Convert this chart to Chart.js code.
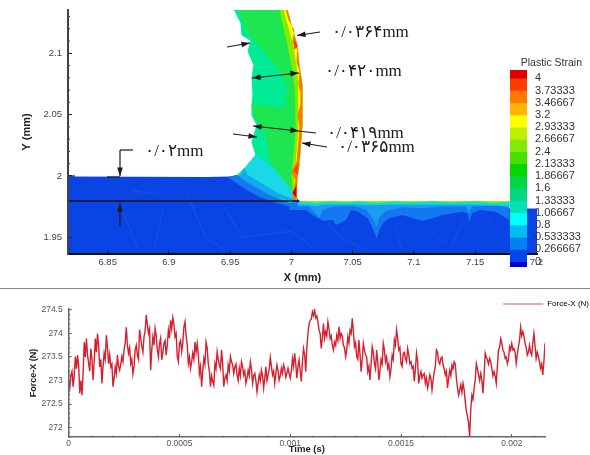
<!DOCTYPE html>
<html>
<head>
<meta charset="utf-8">
<script src="https://cdn.jsdelivr.net/npm/chart.js@4"></script>
<style>
    html, body { margin: 0; padding: 0; background: #fff; }
    canvas { position: absolute; filter: blur(0.45px); }
    #strainChart { left: 0; top: 0; }
    #colorbar { left: 500px; top: 52px; }
    #forceChart { left: 0; top: 290px; }
    #separator { position: absolute; left: 0; top: 288px; width: 590px; height: 1px; background: #8a8a8a; }
</style>
</head>
<body>
<canvas id="strainChart" width="590" height="285"></canvas>
<canvas id="colorbar" width="90" height="220"></canvas>
<div id="separator"></div>
<canvas id="forceChart" width="590" height="165"></canvas>
<script>
// --- 1. DATA ---
const strainXTicks = [6.85, 6.9, 6.95, 7, 7.05, 7.1, 7.15, 7.2];
const strainYTicks = [1.95, 2, 2.05, 2.1];
const forceXTicks = [0, 0.0005, 0.001, 0.0015, 0.002];
const forceYTicks = [272, 272.5, 273, 273.5, 274, 274.5];

const levelValues = [4, 3.73333, 3.46667, 3.2, 2.93333, 2.66667, 2.4, 2.13333, 1.86667, 1.6, 1.33333, 1.06667, 0.8, 0.533333, 0.266667, 0];
const levelLabels = ['4', '3.73333', '3.46667', '3.2', '2.93333', '2.66667', '2.4', '2.13333', '1.86667', '1.6', '1.33333', '1.06667', '0.8', '0.533333', '0.266667', '0'];
const levelColors = ['#dc0000', '#ff3c00', '#ff7800', '#ffb400', '#ffff00', '#bef000', '#82eb00', '#46e100', '#00d700', '#00d746', '#00d782', '#00e1b4', '#00ffff', '#00bef0', '#0082f0', '#0046eb', '#0000e6'];

// workpiece body, x/y in mm
const baseBlue = [[6.8, 1.93], [6.8, 1.9996], [6.93, 1.9992], [6.95, 1.9996], [6.956, 2.0008], [6.9617, 2.0065], [7, 1.9796], [7.1778, 1.9796], [7.1778, 1.9735], [7.21, 1.9735], [7.21, 1.93]];
const meshLines = [[6.862, 1.972], [6.875, 1.94], [NaN, NaN], [6.87, 1.988], [6.89, 1.985], [NaN, NaN], [6.895, 1.972], [6.888, 1.94], [NaN, NaN], [6.915, 1.985], [6.93, 1.95], [6.945, 1.94], [NaN, NaN], [6.945, 1.975], [6.96, 1.95], [7, 1.955], [7.02, 1.94], [NaN, NaN], [7.03, 1.962], [7.04, 1.95], [7.06, 1.94], [NaN, NaN], [7.085, 1.96], [7.09, 1.94], [NaN, NaN], [7.11, 1.96], [7.125, 1.945], [NaN, NaN], [7.14, 1.965], [7.13, 1.94], [NaN, NaN], [7.16, 1.965], [7.175, 1.95]];

// lower edges of the layers under the cut surface
const surfaceTop = [[7.1778, 1.9796], [6.9984, 1.9796]];
const surfaceMedium = [[6.9984, 1.9723], [7.012, 1.9723], [7.0174, 1.9682], [7.0256, 1.9636], [7.0337, 1.9641], [7.0364, 1.9601], [7.0446, 1.9641], [7.0487, 1.9723], [7.0541, 1.9709], [7.0623, 1.9655], [7.0663, 1.9573], [7.0696, 1.9492], [7.0723, 1.9573], [7.0759, 1.9628], [7.0799, 1.9655], [7.0908, 1.9682], [7.099, 1.9655], [7.1071, 1.9636], [7.1153, 1.9655], [7.1234, 1.9682], [7.1397, 1.9709], [7.1438, 1.9696], [7.1452, 1.9628], [7.1474, 1.9696], [7.1533, 1.9723], [7.1669, 1.9709], [7.1778, 1.9641]];
const surfaceSky = [[6.9984, 1.9756], [7.0147, 1.975], [7.0196, 1.9696], [7.0228, 1.9655], [7.0256, 1.9723], [7.0337, 1.975], [7.05, 1.9756], [7.0609, 1.9728], [7.0663, 1.9655], [7.0696, 1.9587], [7.0723, 1.9669], [7.0772, 1.9717], [7.0908, 1.9745], [7.1071, 1.9736], [7.1234, 1.975], [7.1425, 1.975], [7.1452, 1.9696], [7.1474, 1.975], [7.1669, 1.9761], [7.1778, 1.9736]];
const surfaceCyan = [[6.9984, 1.9767], [7.012, 1.9764], [7.02, 1.9755], [7.027, 1.9767], [7.05, 1.9767], [7.065, 1.9761], [7.08, 1.9765], [7.11, 1.9765], [7.145, 1.9765], [7.1778, 1.9755]];
const surfaceGreen = [[6.9984, 1.978], [7.02, 1.9775], [7.05, 1.9779], [7.08, 1.9776], [7.11, 1.9779], [7.15, 1.9775], [7.1778, 1.9773]];
const surfaceLime = [[7.003, 1.9785], [7.01, 1.9795], [7.02, 1.9782], [7.03, 1.9795], [7.045, 1.9785], [7.055, 1.9795], [7.07, 1.9782], [7.085, 1.9795], [7.1, 1.9785], [7.115, 1.9795], [7.13, 1.9785], [7.15, 1.9795], [7.165, 1.9782], [7.1778, 1.979]];

// wedge at the chip root
const wedgeMedium = [[6.9478, 1.9992], [6.9633, 1.9886], [6.9739, 1.9829], [6.9878, 1.978], [7.0041, 1.9739], [7.0065, 1.9796], [7, 1.9886], [6.9617, 2.0065], [6.9559, 2.0008]];
const wedgeSky = [[6.9576, 1.9992], [6.9674, 1.9927], [6.978, 1.987], [6.9902, 1.9821], [7.0033, 1.978], [7.0041, 1.9845], [6.9617, 2.0065]];
const wedgeCyan = [[6.9617, 2.0065], [6.9641, 2.0008], [6.9755, 1.9943], [6.9902, 1.9853], [7.0033, 1.9804], [7.0024, 1.9927], [6.982, 2.009], [6.9723, 2.0171], [6.9706, 2.0171]];

// chip outline and its inner bands
const chipOutline = [[6.956, 2.0008], [6.9617, 2.0065], [6.9706, 2.0171], [6.9674, 2.0277], [6.9715, 2.0416], [6.9674, 2.0497], [6.9674, 2.0579], [6.9682, 2.066], [6.9674, 2.0799], [6.969, 2.0905], [6.9641, 2.1019], [6.9666, 2.11], [6.9592, 2.1149], [6.9584, 2.1247], [6.9535, 2.1345], [6.9527, 2.1361], [6.9967, 2.1361], [7.0008, 2.1206], [7.0049, 2.1068], [7.0065, 2.0905], [7.009, 2.0742], [7.009, 2.0554], [7.009, 2.0416], [7.0082, 2.031], [7.0065, 2.009], [7.0049, 1.9984], [7.0041, 1.9796], [6.9984, 1.978], [6.9886, 1.9821], [6.978, 1.987], [6.9657, 1.9951]];
const chipRightEdge = [[7.0041, 1.9796], [7.0049, 1.9984], [7.0065, 2.009], [7.0082, 2.031], [7.009, 2.0416], [7.009, 2.0554], [7.009, 2.0742], [7.0065, 2.0905], [7.0049, 2.1068], [7.0008, 2.1206], [6.9967, 2.1361]];
const chipCoreEdge = [[6.9576, 2.1361], [6.9625, 2.119], [6.9723, 2.1068], [6.9837, 2.0945], [6.9918, 2.0823], [6.9967, 2.0717], [6.9943, 2.0554], [6.9674, 2.0587], [6.969, 2.0473], [6.9755, 2.0416], [6.9804, 2.0293], [6.982, 2.013], [6.9902, 2.0008], [7, 1.9886]];
const chipLimeEdge = [[6.9902, 2.1361], [6.9935, 2.1206], [6.9967, 2.1068], [7, 2.0905], [7.0024, 2.0742], [7.0033, 2.0554], [7.0033, 2.0416], [7.0024, 2.0253], [7.0008, 2.009], [7, 1.9967], [7.0016, 1.9821]];
const chipYellowEdge = [[6.9935, 2.1361], [6.9976, 2.1206], [7.0016, 2.1068], [7.0041, 2.0905], [7.0057, 2.0742], [7.0057, 2.0554], [7.0057, 2.0416], [7.0049, 2.0293], [7.0033, 2.009], [7.0024, 1.9927], [7.0033, 1.9804]];
const chipOrangeEdge = [[6.9951, 2.1361], [6.9976, 2.1271], [7.0024, 2.119], [7.0008, 2.1092], [7.0049, 2.1027], [7.0041, 2.0929], [7.0065, 2.0864], [7.0057, 2.0742], [7.0073, 2.0685], [7.0073, 2.0579], [7.0049, 2.0497], [7.0065, 2.0416], [7.0057, 2.0293], [7.0041, 2.0114], [7, 2.0033], [7.0033, 1.9967], [7.0008, 1.9821]];
const redPatchLow = [[7.0041, 1.9927], [7.0041, 1.9821], [7.0008, 1.9861]];
const redPatchMid = [[7.0057, 2.0106], [7.0049, 2.0008], [7.0016, 2.0049]];
const redPatchTop = [[7.0016, 2.1125], [7.0049, 2.1059], [7.0024, 2.1027]];
const cutLine = [[6.8176, 1.9796], [7.0065, 1.9796]];

// Force-X trace, read at two interleaved sets of instants
const forceTimes = [
    0, 0.00001, 0.00002, 0.00003, 0.00004, 0.00005, 0.00006, 0.00007, 0.00008, 0.00009,
    0.0001, 0.00011, 0.00012, 0.00013, 0.00014, 0.00015, 0.00016, 0.00017, 0.00018, 0.00019,
    0.0002, 0.00021, 0.00022, 0.00023, 0.00024, 0.00025, 0.00026, 0.00027, 0.00028, 0.00029,
    0.0003, 0.00031, 0.00032, 0.00033, 0.00034, 0.00035, 0.00036, 0.00037, 0.00038, 0.00039,
    0.0004, 0.00041, 0.00042, 0.00043, 0.00044, 0.00045, 0.00046, 0.00047, 0.00048, 0.00049,
    0.0005, 0.00051, 0.00052, 0.00053, 0.00054, 0.00055, 0.00056, 0.00057, 0.00058, 0.00059,
    0.0006, 0.00061, 0.00062, 0.00063, 0.00064, 0.00065, 0.00066, 0.00067, 0.00068, 0.00069,
    0.0007, 0.00071, 0.00072, 0.00073, 0.00074, 0.00075, 0.00076, 0.00077, 0.00078, 0.00079,
    0.0008, 0.00081, 0.00082, 0.00083, 0.00084, 0.00085, 0.00086, 0.00087, 0.00088, 0.00089,
    0.0009, 0.00091, 0.00092, 0.00093, 0.00094, 0.00095, 0.00096, 0.00097, 0.00098, 0.00099,
    0.001, 0.00101, 0.00102, 0.00103, 0.00104, 0.00105, 0.00106, 0.00107, 0.00108, 0.00109,
    0.0011, 0.00111, 0.00112, 0.00113, 0.00114, 0.00115, 0.00116, 0.00117, 0.00118, 0.00119,
    0.0012, 0.00121, 0.00122, 0.00123, 0.00124, 0.00125, 0.00126, 0.00127, 0.00128, 0.00129,
    0.0013, 0.00131, 0.00132, 0.00133, 0.00134, 0.00135, 0.00136, 0.00137, 0.00138, 0.00139,
    0.0014, 0.00141, 0.00142, 0.00143, 0.00144, 0.00145, 0.00146, 0.00147, 0.00148, 0.00149,
    0.0015, 0.00151, 0.00152, 0.00153, 0.00154, 0.00155, 0.00156, 0.00157, 0.00158, 0.00159,
    0.0016, 0.00161, 0.00162, 0.00163, 0.00164, 0.00165, 0.00166, 0.00167, 0.00168, 0.00169,
    0.0017, 0.00171, 0.00172, 0.00173, 0.00174, 0.00175, 0.00176, 0.00177, 0.00178, 0.00179,
    0.0018, 0.00181, 0.00182, 0.00183, 0.00184, 0.00185, 0.00186, 0.00187, 0.00188, 0.00189,
    0.0019, 0.00191, 0.00192, 0.00193, 0.00194, 0.00195, 0.00196, 0.00197, 0.00198, 0.00199,
    0.002, 0.00201, 0.00202, 0.00203, 0.00204, 0.00205, 0.00206, 0.00207, 0.00208, 0.00209,
    0.0021, 0.00211, 0.00212, 0.00213, 0.00214, 0.00215
];
const forceValues = [
    273.01, 273.12, 272.87, 273.51, 273.54, 272.73, 272.69, 273.82, 273.89, 273.36,
    273.68, 273.01, 273.89, 274.00, 273.29, 272.94, 273.58, 273.96, 273.36, 273.29,
    272.87, 273.29, 273.54, 273.22, 273.51, 273.65, 274.13, 273.58, 273.36, 273.14,
    273.65, 273.54, 274.08, 273.72, 273.93, 274.39, 274.00, 273.22, 273.93, 274.11,
    273.65, 273.79, 273.44, 273.79, 273.54, 274.07, 274.28, 274.34, 273.93, 273.51,
    273.79, 273.61, 274.14, 273.96, 273.36, 273.26, 273.58, 273.82, 273.79, 273.15,
    272.87, 273.47, 273.82, 273.36, 272.87, 272.98, 273.36, 273.61, 273.33, 273.65,
    272.87, 273.12, 273.33, 273.51, 273.33, 273.29, 273.12, 273.26, 273.40, 273.12,
    272.94, 273.22, 273.40, 272.94, 273.15, 272.76, 273.12, 273.22, 272.84, 273.29,
    273.12, 273.49, 273.12, 272.94, 273.33, 273.01, 273.26, 273.33, 273.07, 273.26,
    273.05, 273.47, 273.58, 273.05, 273.44, 272.98, 273.68, 273.19, 274.00, 274.28,
    274.46, 274.51, 274.37, 274.07, 273.68, 274.21, 274.04, 274.25, 273.89, 273.75,
    273.82, 273.96, 274.14, 274.00, 273.75, 273.51, 273.93, 274.07, 274.32, 273.72,
    273.51, 273.86, 273.19, 273.79, 273.54, 273.19, 273.01, 273.72, 273.36, 273.65,
    273.01, 273.44, 273.79, 273.40, 273.26, 273.08, 273.54, 273.86, 274.08, 273.65,
    273.36, 273.58, 273.47, 273.68, 273.36, 273.26, 272.98, 273.58, 272.94, 273.19,
    273.12, 272.94, 272.84, 273.12, 272.80, 273.19, 273.65, 273.40, 273.47, 273.33,
    273.12, 272.84, 273.22, 273.33, 273.40, 273.05, 272.69, 272.91, 272.94, 272.55,
    272.24, 271.81, 272.69, 272.84, 273.36, 273.12, 273.15, 272.73, 273.58, 273.44,
    273.47, 273.26, 273.19, 272.94, 273.65, 273.89, 273.65, 273.47, 273.36, 273.72,
    273.79, 273.68, 273.36, 273.72, 274.13, 274.04, 273.79, 273.54, 273.75, 273.54,
    274.00, 273.47, 273.51, 273.26, 273.12, 273.79
];
const forceMidTimes = [
    0.000005, 0.000015, 0.000025, 0.000035, 0.000045, 0.000055, 0.000065, 0.000075, 0.000085, 0.000095,
    0.000105, 0.000115, 0.000125, 0.000135, 0.000145, 0.000155, 0.000165, 0.000175, 0.000185, 0.000195,
    0.000205, 0.000215, 0.000225, 0.000235, 0.000245, 0.000255, 0.000265, 0.000275, 0.000285, 0.000295,
    0.000305, 0.000315, 0.000325, 0.000335, 0.000345, 0.000355, 0.000365, 0.000375, 0.000385, 0.000395,
    0.000405, 0.000415, 0.000425, 0.000435, 0.000445, 0.000455, 0.000465, 0.000475, 0.000485, 0.000495,
    0.000505, 0.000515, 0.000525, 0.000535, 0.000545, 0.000555, 0.000565, 0.000575, 0.000585, 0.000595,
    0.000605, 0.000615, 0.000625, 0.000635, 0.000645, 0.000655, 0.000665, 0.000675, 0.000685, 0.000695,
    0.000705, 0.000715, 0.000725, 0.000735, 0.000745, 0.000755, 0.000765, 0.000775, 0.000785, 0.000795,
    0.000805, 0.000815, 0.000825, 0.000835, 0.000845, 0.000855, 0.000865, 0.000875, 0.000885, 0.000895,
    0.000905, 0.000915, 0.000925, 0.000935, 0.000945, 0.000955, 0.000965, 0.000975, 0.000985, 0.000995,
    0.001005, 0.001015, 0.001025, 0.001035, 0.001045, 0.001055, 0.001065, 0.001075, 0.001085, 0.001095,
    0.001105, 0.001115, 0.001125, 0.001135, 0.001145, 0.001155, 0.001165, 0.001175, 0.001185, 0.001195,
    0.001205, 0.001215, 0.001225, 0.001235, 0.001245, 0.001255, 0.001265, 0.001275, 0.001285, 0.001295,
    0.001305, 0.001315, 0.001325, 0.001335, 0.001345, 0.001355, 0.001365, 0.001375, 0.001385, 0.001395,
    0.001405, 0.001415, 0.001425, 0.001435, 0.001445, 0.001455, 0.001465, 0.001475, 0.001485, 0.001495,
    0.001505, 0.001515, 0.001525, 0.001535, 0.001545, 0.001555, 0.001565, 0.001575, 0.001585, 0.001595,
    0.001605, 0.001615, 0.001625, 0.001635, 0.001645, 0.001655, 0.001665, 0.001675, 0.001685, 0.001695,
    0.001705, 0.001715, 0.001725, 0.001735, 0.001745, 0.001755, 0.001765, 0.001775, 0.001785, 0.001795,
    0.001805, 0.001815, 0.001825, 0.001835, 0.001845, 0.001855, 0.001865, 0.001875, 0.001885, 0.001895,
    0.001905, 0.001915, 0.001925, 0.001935, 0.001945, 0.001955, 0.001965, 0.001975, 0.001985, 0.001995,
    0.002005, 0.002015, 0.002025, 0.002035, 0.002045, 0.002055, 0.002065, 0.002075, 0.002085, 0.002095,
    0.002105, 0.002115, 0.002125, 0.002135, 0.002145
];
const forceMidValues = [
    272.85, 273.20, 273.10, 273.25, 273.30, 273.00, 273.15, 273.50, 273.55, 273.20,
    273.45, 273.40, 273.60, 273.75, 273.45, 273.30, 273.45, 273.70, 273.55, 273.35,
    273.05, 273.15, 273.30, 273.35, 273.40, 273.80, 273.75, 273.70, 273.45, 273.30,
    273.75, 273.45, 273.90, 273.60, 274.05, 274.20, 274.10, 273.65, 273.75, 273.95,
    273.50, 273.90, 273.60, 273.85, 273.75, 273.90, 274.10, 274.20, 274.00, 273.40,
    273.85, 273.80, 274.25, 273.75, 273.50, 273.40, 273.45, 273.60, 273.55, 273.30,
    273.20, 273.35, 273.70, 273.20, 273.10, 272.90, 273.25, 273.45, 273.25, 273.35,
    273.05, 273.00, 273.20, 273.40, 273.15, 273.35, 273.00, 273.10, 273.30, 273.20,
    273.05, 273.10, 273.25, 273.10, 273.00, 272.95, 273.00, 273.10, 273.05, 273.00,
    273.25, 273.30, 273.20, 273.15, 273.20, 273.10, 273.15, 273.25, 273.15, 273.15,
    273.20, 273.30, 273.35, 273.30, 273.20, 273.40, 273.55, 273.70, 274.20, 274.30,
    274.38, 274.33, 274.25, 274.00, 273.90, 273.90, 273.95, 274.10, 273.95, 273.65,
    273.75, 273.85, 273.90, 273.95, 273.70, 273.65, 273.80, 274.00, 274.05, 273.80,
    273.45, 273.55, 273.45, 273.65, 273.50, 273.30, 273.35, 273.60, 273.25, 273.40,
    273.20, 273.35, 273.65, 273.50, 273.35, 273.25, 273.45, 273.75, 273.90, 273.70,
    273.30, 273.60, 273.40, 273.55, 273.40, 273.30, 273.25, 273.40, 273.10, 273.05,
    273.15, 273.05, 272.95, 273.05, 273.00, 273.30, 273.60, 273.35, 273.50, 273.25,
    273.20, 273.05, 273.10, 273.25, 273.35, 272.85, 272.80, 272.75, 272.80, 272.35,
    272.10, 272.40, 272.60, 273.00, 273.25, 273.00, 273.00, 273.10, 273.50, 273.35,
    273.40, 273.10, 273.10, 273.30, 273.70, 273.80, 273.60, 273.50, 273.45, 273.65,
    273.65, 273.60, 273.55, 273.85, 273.95, 273.95, 273.70, 273.60, 273.60, 273.80,
    273.75, 273.60, 273.40, 273.35, 273.40
];

// --- 2. HELPERS ---
function toPoints(list) {
    return list.map(p => ({ x: p[0], y: p[1] }));
}

function polygon(list, color) {
    return { data: toPoints(list), showLine: true, fill: 'shape', backgroundColor: color, borderWidth: 0, pointRadius: 0, tension: 0 };
}

function polyline(list, color, width) {
    return { data: toPoints(list), showLine: true, fill: false, borderColor: color, borderWidth: width, pointRadius: 0, tension: 0 };
}

function surfaceBand(lower, color) {
    return polygon(lower.concat(surfaceTop), color);
}

function chipBand(edge, color) {
    return polygon(edge.concat(chipRightEdge), color);
}

function forceTrace() {
    const pontos = [];
    forceTimes.forEach((t, i) => {
        pontos.push({ x: t, y: forceValues[i] });
        if (i < forceMidTimes.length) pontos.push({ x: forceMidTimes[i], y: forceMidValues[i] });
    });
    return pontos;
}

function arrowHead(ctx, x1, y1, x2, y2) {
    const a = Math.atan2(y2 - y1, x2 - x1);
    ctx.beginPath();
    ctx.moveTo(x2, y2);
    ctx.lineTo(x2 - 9 * Math.cos(a - 0.32), y2 - 9 * Math.sin(a - 0.32));
    ctx.lineTo(x2 - 9 * Math.cos(a + 0.32), y2 - 9 * Math.sin(a + 0.32));
    ctx.closePath();
    ctx.fill();
}

function segment(ctx, x1, y1, x2, y2) {
    ctx.beginPath();
    ctx.moveTo(x1, y1);
    ctx.lineTo(x2, y2);
    ctx.stroke();
}

function arrow(ctx, x1, y1, x2, y2) {
    segment(ctx, x1, y1, x2, y2);
    arrowHead(ctx, x1, y1, x2, y2);
}

// small inward ticks between the labelled ones
const minorTicks = {
    id: 'minorTicks',
    afterDatasetsDraw(chart, args, opts) {
        const ctx = chart.ctx;
        const xs = chart.scales.x, ys = chart.scales.y;
        ctx.save();
        ctx.strokeStyle = opts.color;
        ctx.lineWidth = 1;
        for (let v = opts.xFirst, i = 0; v <= xs.max; i++, v = opts.xFirst + i * opts.xStep) {
            const px = xs.getPixelForValue(v);
            segment(ctx, px, ys.bottom, px, ys.bottom - opts.size);
        }
        for (let v = opts.yFirst, i = 0; v <= ys.max; i++, v = opts.yFirst + i * opts.yStep) {
            const py = ys.getPixelForValue(v);
            segment(ctx, xs.left, py, xs.left + opts.size, py);
        }
        ctx.restore();
    }
};

// thickness callouts of the top chart
const callouts = {
    id: 'callouts',
    afterDatasetsDraw(chart) {
        const ctx = chart.ctx;
        ctx.save();
        ctx.strokeStyle = '#1a1a1a';
        ctx.fillStyle = '#1a1a1a';
        ctx.lineWidth = 1.2;
        arrow(ctx, 320, 32, 297, 35.5);
        arrow(ctx, 299, 73, 252, 78);
        arrowHead(ctx, 270, 75, 299, 73);
        arrow(ctx, 316, 133, 253, 126);
        arrowHead(ctx, 270, 128, 299, 131);
        arrow(ctx, 327, 147, 302, 143);
        arrow(ctx, 227, 47, 250, 43);
        arrow(ctx, 233, 134, 257, 137);
        segment(ctx, 133, 150, 120, 150);
        arrow(ctx, 120, 150, 120, 176);
        segment(ctx, 107, 177, 120, 177);
        segment(ctx, 68, 176, 75, 176);
        arrow(ctx, 120, 226, 120, 203);

        ctx.font = '17px "Liberation Serif", "DejaVu Sans", serif';
        ctx.textBaseline = 'middle';
        ctx.fillText('۰/۰۳۶۴mm', 332, 33);
        ctx.fillText('۰/۰۴۲۰mm', 325, 72);
        ctx.fillText('۰/۰۴۱۹mm', 327, 134);
        ctx.fillText('۰/۰۳۶۵mm', 338, 148);
        ctx.fillText('۰/۰۲mm', 145, 152);
        ctx.restore();
    }
};

// the legend keeps 10px below itself; give that room back to the plot
const tightLegend = {
    id: 'tightLegend',
    beforeInit(chart) {
        const fit = chart.legend.fit;
        chart.legend.fit = function () {
            fit.call(this);
            this.height = 10;
        };
    }
};

function fixedTicks(list) {
    return scale => { scale.ticks = list.map(v => ({ value: v })); };
}

function fitHeight(size) {
    return s => { s.height = size; s.paddingLeft = 0; s.paddingRight = 0; };
}

function fitWidth(size) {
    return s => { s.width = size; s.paddingTop = 0; s.paddingBottom = 0; };
}

// --- 3. TOP CHART: STRAIN FIELD ---
const fieldLayers = [
    polygon(baseBlue, '#0a44e4'),
    polyline(meshLines, 'rgba(120,160,255,0.2)', 0.8),
    surfaceBand(surfaceMedium, '#1478f0'),
    surfaceBand(surfaceSky, '#1e9bf0'),
    surfaceBand(surfaceCyan, '#14d2ee'),
    surfaceBand(surfaceGreen, '#1ee68c'),
    surfaceBand(surfaceLime, '#a0f000'),
    polygon(wedgeMedium, '#1478f0'),
    polygon(chipOutline, '#00eb96'),
    polygon(wedgeSky, '#14a8ee'),
    polygon(wedgeCyan, '#19d9e6'),
    chipBand(chipCoreEdge, '#1ee650'),
    chipBand(chipLimeEdge, '#82eb00'),
    chipBand(chipYellowEdge, levelColors[4]),
    chipBand(chipOrangeEdge, levelColors[2]),
    polygon(redPatchLow, levelColors[0]),
    polygon(redPatchMid, levelColors[1]),
    polygon(redPatchTop, levelColors[1]),
    polyline(cutLine, '#111', 1.5)
];

new Chart(document.getElementById('strainChart'), {
    type: 'scatter',
    data: { datasets: fieldLayers.slice().reverse() },
    plugins: [minorTicks, callouts],
    options: {
        responsive: false,
        animation: false,
        layout: { padding: { left: 0, right: 53, top: 10, bottom: 0 } },
        plugins: {
            legend: { display: false },
            tooltip: { enabled: false },
            minorTicks: { color: '#333', size: 2, xFirst: 6.82, xStep: 0.01, yFirst: 1.94, yStep: 0.01 }
        },
        scales: {
            x: {
                type: 'linear',
                min: 6.8176,
                max: 7.2005,
                afterBuildTicks: fixedTicks(strainXTicks),
                afterFit: fitHeight(31),
                grid: { drawOnChartArea: false, tickLength: -4, tickColor: '#222', z: 1 },
                border: { color: '#111', width: 2, z: 1 },
                ticks: { color: '#444', font: { size: 9.5, family: 'Liberation Sans' }, padding: 7, maxRotation: 0, autoSkip: false, callback: v => String(v) },
                title: { display: true, text: 'X (mm)', color: '#222', font: { size: 11, weight: 'bold', family: 'Liberation Sans' }, padding: { top: 7.4, bottom: 0 } }
            },
            y: {
                min: 1.9364,
                max: 2.1353,
                afterBuildTicks: fixedTicks(strainYTicks),
                afterFit: fitWidth(68),
                grid: { drawOnChartArea: false, tickLength: -4, tickColor: '#222', z: 1 },
                border: { color: '#444', width: 2, z: 1 },
                ticks: { color: '#444', font: { size: 9.5, family: 'Liberation Sans' }, padding: 10, autoSkip: false, callback: v => String(v) },
                title: { display: true, text: 'Y (mm)', color: '#222', font: { size: 11, weight: 'bold', family: 'Liberation Sans' }, padding: { top: 20.4, bottom: 0 } }
            }
        }
    }
});

// --- 4. COLOR BAR ---
const barEdges = [4.18].concat(levelValues, [-0.116]);

new Chart(document.getElementById('colorbar'), {
    type: 'bar',
    data: {
        labels: ['Plastic Strain'],
        datasets: levelColors.map((color, i) => ({
            data: [[barEdges[i + 1], barEdges[i]]],
            backgroundColor: color,
            borderWidth: 0,
            barPercentage: 1,
            categoryPercentage: 1,
            grouped: false
        }))
    },
    options: {
        responsive: false,
        animation: false,
        layout: { padding: { left: 10, right: 8, top: 0, bottom: 5 } },
        plugins: {
            legend: { display: false },
            tooltip: { enabled: false },
            title: { display: true, text: 'Plastic Strain', align: 'end', color: '#333', font: { size: 10.5, weight: 'normal', family: 'Liberation Sans' }, padding: { top: 4.4, bottom: 1 } }
        },
        scales: {
            x: { display: false },
            y: {
                position: 'right',
                min: -0.116,
                max: 4.18,
                afterBuildTicks: fixedTicks(levelValues),
                afterFit: fitWidth(55),
                grid: { display: false },
                border: { display: false },
                ticks: {
                    color: '#333',
                    font: { size: 11, family: 'Liberation Sans' },
                    padding: 0,
                    autoSkip: false,
                    callback: v => levelLabels[levelValues.indexOf(v)]
                }
            }
        }
    }
});

// --- 5. BOTTOM CHART: FORCE ---
new Chart(document.getElementById('forceChart'), {
    type: 'scatter',
    data: {
        datasets: [{
            label: 'Force-X (N)',
            data: forceTrace(),
            showLine: true,
            borderColor: '#d4202f',
            borderWidth: 1.4,
            pointRadius: 0,
            tension: 0
        }]
    },
    plugins: [minorTicks, tightLegend],
    options: {
        responsive: false,
        animation: false,
        layout: { padding: { left: 0, right: 0, top: 9, bottom: 0 } },
        plugins: {
            tooltip: { enabled: false },
            legend: {
                position: 'top',
                align: 'end',
                labels: {
                    boxWidth: 40,
                    boxHeight: 1.5,
                    padding: 1,
                    color: '#555',
                    font: { size: 8, family: 'Liberation Sans' },
                    generateLabels: () => [{ text: 'Force-X (N)', fillStyle: '#ee8890', strokeStyle: '#ee8890', lineWidth: 0 }]
                }
            },
            minorTicks: { color: '#777', size: 1.5, xFirst: 0, xStep: 0.0001, yFirst: 271.9, yStep: 0.1 }
        },
        scales: {
            x: {
                type: 'linear',
                min: 0,
                max: 0.00215,
                afterBuildTicks: fixedTicks(forceXTicks),
                afterFit: fitHeight(18),
                grid: { drawOnChartArea: false, tickLength: -3, tickColor: '#666', z: 1 },
                border: { color: '#666', width: 1.5, z: 1 },
                ticks: { color: '#555', font: { size: 8.5, family: 'Liberation Sans' }, padding: 5, maxRotation: 0, autoSkip: false, callback: v => String(v) },
                title: { display: true, text: 'Time (s)', color: '#222', font: { size: 9.5, weight: 'bold', family: 'Liberation Sans' }, padding: { top: 0.3, bottom: 0 } }
            },
            y: {
                min: 271.8,
                max: 274.52,
                afterBuildTicks: fixedTicks(forceYTicks),
                afterFit: fitWidth(68.7),
                grid: { drawOnChartArea: false, tickLength: -3, tickColor: '#666', z: 1 },
                border: { color: '#666', width: 1.5, z: 1 },
                ticks: { color: '#555', font: { size: 8.5, family: 'Liberation Sans' }, padding: 9, autoSkip: false, callback: v => String(v) },
                title: { display: true, text: 'Force-X (N)', color: '#222', font: { size: 9, weight: 'bold', family: 'Liberation Sans' }, padding: { top: 28.6, bottom: 0 } }
            },
            rightGap: {
                position: 'right',
                min: 0,
                max: 1,
                afterFit: fitWidth(45),
                grid: { display: false },
                border: { display: false },
                ticks: { display: false }
            }
        }
    }
});
</script>
</body>
</html>
